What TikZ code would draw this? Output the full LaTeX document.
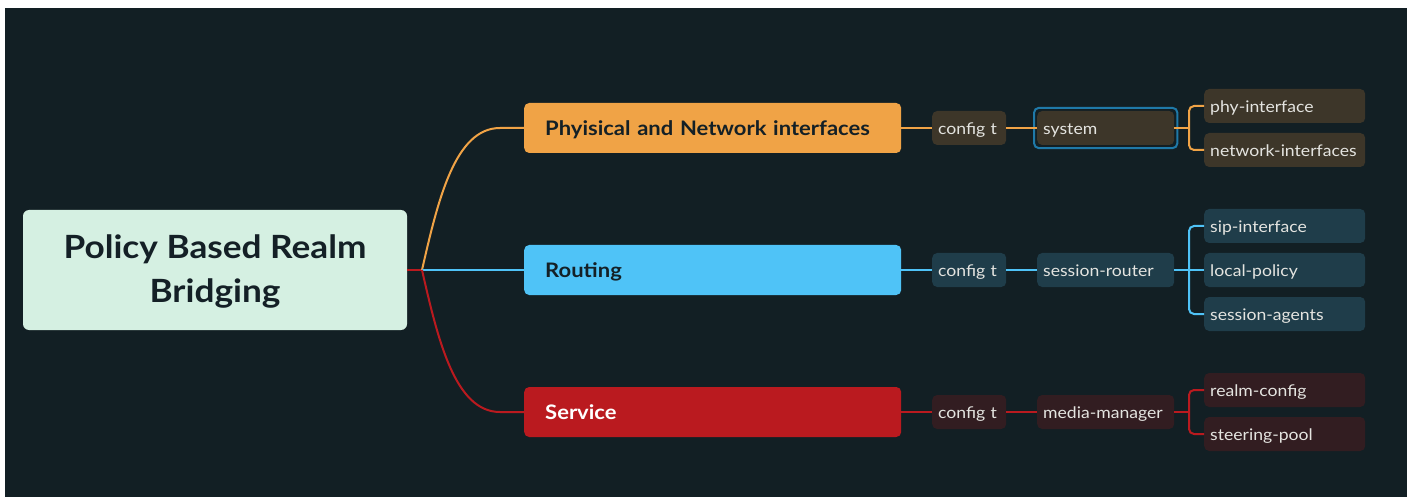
\documentclass[tikz,border=0pt]{standalone}
\usepackage{fontspec}
\setmainfont{Lato}[FakeStretch=1.1]

\definecolor{bgdark}{HTML}{121F24}
\definecolor{rootfill}{HTML}{D5F0E2}
\definecolor{physorange}{HTML}{F0A346}
\definecolor{routeblue}{HTML}{4FC3F7}
\definecolor{servred}{HTML}{BA1A1F}
\definecolor{physleaf}{HTML}{3D3629}
\definecolor{routeleaf}{HTML}{1F3D4A}
\definecolor{servleaf}{HTML}{321D21}
\definecolor{selblue}{HTML}{1F79A8}
\definecolor{inktext}{HTML}{142026}
\definecolor{leaftext}{HTML}{E4E4E0}

\tikzset{
  topic/.style={rounded corners=5pt, anchor=west, align=left, inner ysep=0pt},
  mainbox/.style={topic, minimum height=50pt, inner xsep=21pt, text width=335pt,
    text height=18pt, text depth=3pt, font=\bfseries\fontsize{20}{24}\selectfont},
  cfgbox/.style={topic, minimum height=34pt, inner xsep=6pt, text width=62pt,
    text height=14pt, text depth=1pt, text=leaftext, font=\fontsize{16}{19}\selectfont},
  cmdbox/.style={cfgbox, text width=125pt, inner xsep=6pt},
  leafbox/.style={cfgbox, text width=149pt, inner xsep=6pt},
  link/.style={line width=2pt},
}

\begin{document}
\begin{tikzpicture}[x=1pt,y=-1pt]

      \fill[white] (0,0) rectangle (1411,497);
      \fill[bgdark] (5,8) rectangle (1407,497);
      \useasboundingbox (0,0) rectangle (1411,497);

      % central topic
      \node[fill=rootfill, rounded corners=6pt, minimum width=384pt, minimum height=120pt,
            align=center, text depth=2pt, text=inktext, font=\bfseries\fontsize{32}{44}\selectfont]
            (root) at (215,270) {Policy Based Realm\\Bridging};

      \coordinate (j0) at (422,270);
      \coordinate (j1) at (1189,128);
      \coordinate (j2) at (1189,270);
      \coordinate (j3) at (1189,412);

      % main branches
      \node[mainbox, fill=physorange, text=inktext] (phys) at (524,128) {Phyisical and Network interfaces};
      \node[mainbox, fill=routeblue, text=inktext] (routing) at (524,270) {Routing};
      \node[mainbox, fill=servred, text=white] (serv) at (524,412) {Service};

      \begin{scope}[every node/.style={fill=physleaf}]
        \node[cfgbox] (cfg1) at (932,128) {config t};
        \node[cmdbox] (sys) at (1037,128) {system};
        \node[leafbox] (phy) at (1204,106) {phy-interface};
        \node[leafbox] (net) at (1204,150) {network-interfaces};
      \end{scope}

      \begin{scope}[every node/.style={fill=routeleaf}]
        \node[cfgbox] (cfg2) at (932,270) {config t};
        \node[cmdbox] (router) at (1037,270) {session-router};
        \node[leafbox] (sip) at (1204,226) {sip-interface};
        \node[leafbox] (local) at (1204,270) {local-policy};
        \node[leafbox] (agents) at (1204,314) {session-agents};
      \end{scope}

      \begin{scope}[every node/.style={fill=servleaf}]
        \node[cfgbox] (cfg3) at (932,412) {config t};
        \node[cmdbox] (media) at (1037,412) {media-manager};
        \node[leafbox] (realm) at (1204,390) {realm-config};
        \node[leafbox] (steer) at (1204,434) {steering-pool};
      \end{scope}

      % selection frame
      \draw[selblue, line width=2pt, rounded corners=5pt]
        ([shift={(-3,-3)}]sys.north west) rectangle ([shift={(3,3)}]sys.south east);

      % connectors
      \draw[link, servred] (root) -- (j0);
      \draw[link, physorange] (j0) .. controls +(16,-70) and +(-45,0) .. ([xshift=-24pt]phys.west) -- (phys);
      \draw[link, routeblue] (j0) -- (routing);
      \draw[link, servred] (j0) .. controls +(16,70) and +(-45,0) .. ([xshift=-24pt]serv.west) -- (serv);

      \begin{scope}[every edge/.style={draw, link, physorange}]
        \path (phys) edge (cfg1);
        \path (cfg1) edge (sys);
        \path (sys) edge (j1);
        \path[rounded corners=5pt] (phy) edge[to path={-| (j1) |- (\tikztotarget)}] (net);
      \end{scope}

      \begin{scope}[every edge/.style={draw, link, routeblue}]
        \path (routing) edge (cfg2);
        \path (cfg2) edge (router);
        \path (router) edge (local);
        \path[rounded corners=5pt] (sip) edge[to path={-| (j2) |- (\tikztotarget)}] (agents);
      \end{scope}

      \begin{scope}[every edge/.style={draw, link, servred}]
        \path (serv) edge (cfg3);
        \path (cfg3) edge (media);
        \path (media) edge (j3);
        \path[rounded corners=5pt] (realm) edge[to path={-| (j3) |- (\tikztotarget)}] (steer);
      \end{scope}

    \end{tikzpicture}
\end{document}
